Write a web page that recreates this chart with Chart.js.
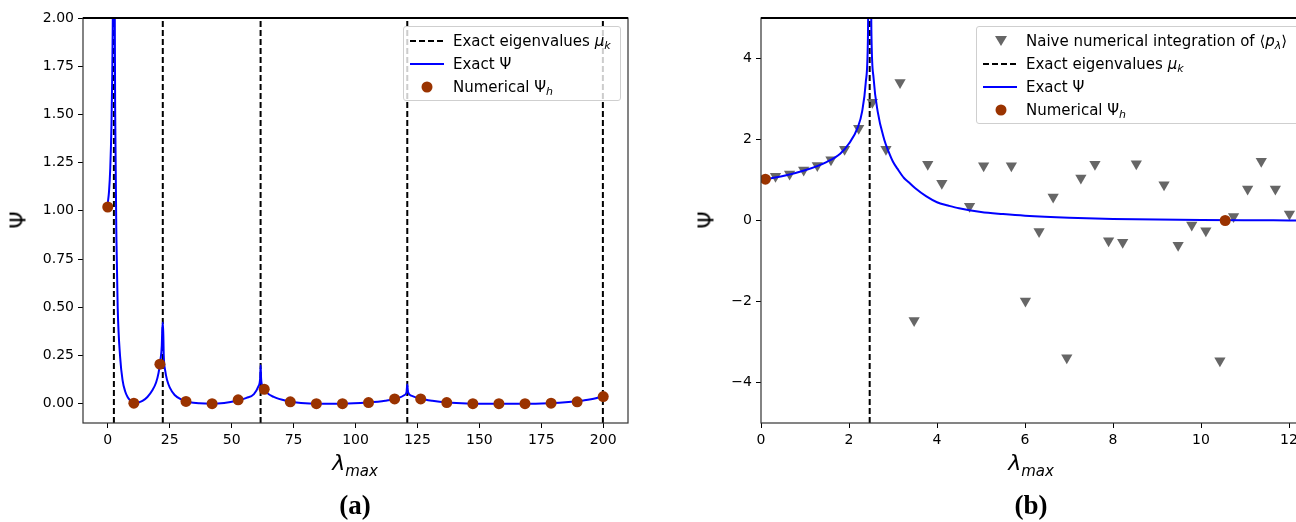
<!DOCTYPE html>
<html>
<head>
<meta charset="utf-8">
<script src="https://cdn.jsdelivr.net/npm/chart.js@4"></script>
<style>
  html, body { margin: 0; padding: 0; background: #fff; }
  body { width: 1296px; height: 522px; position: relative; overflow: hidden; font-family: 'DejaVu Sans', sans-serif; }
  canvas { position: absolute; top: 0; }
  #chartA { left: 0; }
  #chartB { left: 680px; }
  .legend { position: absolute; background: rgba(255,255,255,0.8); border: 1px solid #cfcfcf; border-radius: 3px; box-sizing: border-box; }
  .row { position: absolute; left: 0; height: 20px; font-size: 15px; line-height: 20px; white-space: nowrap; color: #000; }
  .row svg { position: absolute; left: 4px; top: 2px; }
  .row span { position: absolute; left: 49px; }
  sub { font-size: 11px; vertical-align: -3px; line-height: 0; }
  .ylab { position: absolute; font-size: 22px; transform: translate(-50%, -50%) rotate(-90deg); }
  .xlab { position: absolute; font-size: 22px; transform: translateX(-50%); font-style: italic; }
  .xlab sub { font-size: 15px; vertical-align: -6px; }
  .panel { position: absolute; font-family: 'Liberation Serif', serif; font-weight: bold; font-size: 27px; transform: translateX(-50%); }
</style>
</head>
<body>
<canvas id="chartA" width="640" height="460"></canvas>
<canvas id="chartB" width="640" height="460"></canvas>

<div class="legend" style="left:403px; top:26px; width:218px; height:75px;">
  <div class="row" style="top:4px"><svg width="40" height="16"><line x1="2" y1="8" x2="36" y2="8" stroke="#000" stroke-width="2" stroke-dasharray="6,3"/></svg><span>Exact eigenvalues <i>μ</i><sub><i>k</i></sub></span></div>
  <div class="row" style="top:27px"><svg width="40" height="16"><line x1="2" y1="8" x2="36" y2="8" stroke="#0000ff" stroke-width="2"/></svg><span>Exact Ψ</span></div>
  <div class="row" style="top:50px"><svg width="40" height="16"><circle cx="19" cy="8" r="5.5" fill="#9a3300"/></svg><span>Numerical Ψ<sub><i>h</i></sub></span></div>
</div>

<div class="legend" style="left:976px; top:26px; width:340px; height:98px;">
  <div class="row" style="top:4px"><svg width="40" height="16"><polygon points="14,3 26,3 20,13" fill="#666"/></svg><span>Naive numerical integration of ⟨<i>p</i><sub><i>λ</i></sub>⟩</span></div>
  <div class="row" style="top:27px"><svg width="40" height="16"><line x1="2" y1="8" x2="36" y2="8" stroke="#000" stroke-width="2" stroke-dasharray="6,3"/></svg><span>Exact eigenvalues <i>μ</i><sub><i>k</i></sub></span></div>
  <div class="row" style="top:50px"><svg width="40" height="16"><line x1="2" y1="8" x2="36" y2="8" stroke="#0000ff" stroke-width="2"/></svg><span>Exact Ψ</span></div>
  <div class="row" style="top:73px"><svg width="40" height="16"><circle cx="20" cy="8" r="5.5" fill="#9a3300"/></svg><span>Numerical Ψ<sub><i>h</i></sub></span></div>
</div>

<div class="ylab" style="left:18px; top:220px;">Ψ</div>
<div class="ylab" style="left:706px; top:220px;">Ψ</div>
<div class="xlab" style="left:355px; top:450px;">λ<sub>max</sub></div>
<div class="xlab" style="left:1031px; top:450px;">λ<sub>max</sub></div>
<div class="panel" style="left:355px; top:490px;">(a)</div>
<div class="panel" style="left:1031px; top:490px;">(b)</div>

<script>
// ---- panel (a) data ----
const eigenA = [2.47, 22.21, 61.69, 120.90, 199.86];
const exactAx = [0, 0.5, 1.0, 1.5, 1.8, 2.0, 2.2, 2.35, 2.45, 2.5, 2.6, 2.8, 3.0, 3.5, 4.0, 5.0, 6.0, 7.0, 8.0, 9.0, 10.0, 11.0, 12.0, 14.0, 16.0, 18.0, 19.5, 20.5, 21.3, 21.8, 22.1, 22.3, 22.6, 23.2, 24.0, 25.0, 27.0, 30.0, 33.0, 37.0, 42.0, 47.0, 52.0, 56.0, 59.0, 60.8, 61.5, 61.7, 61.9, 62.5, 64.0, 67.0, 72.0, 78.0, 85.0, 95.0, 105.0, 112.0, 117.0, 119.8, 120.6, 120.9, 121.2, 122.5, 126.0, 131.0, 137.0, 145.0, 155.0, 168.0, 178.0, 186.0, 192.0, 197.0, 199.86];
const exactAy = [1.04, 1.1, 1.22, 1.45, 1.7, 1.95, 2.4, 3.2, 6, 6, 3.5, 2.1, 1.5, 0.85, 0.5, 0.24, 0.12, 0.065, 0.035, 0.018, 0.008, 0.005, 0.006, 0.015, 0.035, 0.07, 0.11, 0.16, 0.23, 0.3, 0.42, 0.42, 0.25, 0.17, 0.12, 0.085, 0.045, 0.02, 0.008, 0.002, 0.0, 0.004, 0.015, 0.03, 0.05, 0.09, 0.13, 0.2, 0.13, 0.09, 0.06, 0.035, 0.015, 0.004, 0.0, 0.0, 0.006, 0.015, 0.028, 0.045, 0.06, 0.1, 0.06, 0.042, 0.027, 0.015, 0.006, 0.001, 0.0, 0.0, 0.003, 0.009, 0.017, 0.028, 0.04];
const numAx = [0, 10.53, 21.05, 31.58, 42.11, 52.63, 63.16, 73.68, 84.21, 94.74, 105.26, 115.79, 126.32, 136.84, 147.37, 157.89, 168.42, 178.95, 189.47, 200.0];
const numAy = [1.02, 0.003, 0.205, 0.012, 0.0, 0.02, 0.075, 0.01, 0.0, 0.0, 0.006, 0.025, 0.025, 0.006, 0.0, 0.0, 0.0, 0.003, 0.01, 0.037];
const xTicksA = [0, 25, 50, 75, 100, 125, 150, 175, 200];
const yTicksA = [0, 0.25, 0.5, 0.75, 1.0, 1.25, 1.5, 1.75, 2.0];

// ---- panel (b) data ----
const eigenB = [2.47];
const exactBx = [0.1, 0.5, 1.0, 1.5, 1.8, 2.0, 2.2, 2.3, 2.38, 2.43, 2.46, 2.48, 2.51, 2.56, 2.65, 2.8, 2.9, 3.0, 3.1, 3.25, 3.35, 3.5, 3.75, 4.0, 4.25, 4.5, 5.0, 5.5, 6.0, 7.0, 8.0, 9.0, 10.0, 11.0, 12.0, 12.5];
const exactBy = [1.02, 1.1, 1.24, 1.45, 1.65, 1.9, 2.3, 2.7, 3.4, 4.5, 8, 8, 4.6, 3.5, 2.7, 2.0, 1.7, 1.45, 1.28, 1.05, 0.95, 0.8, 0.6, 0.45, 0.37, 0.3, 0.21, 0.16, 0.12, 0.07, 0.04, 0.022, 0.012, 0.006, 0.003, 0.002];
const naiveX = [0.33, 0.65, 0.97, 1.28, 1.59, 1.90, 2.22, 2.53, 2.84, 3.16, 3.48, 3.79, 4.11, 4.74, 5.06, 5.69, 6.01, 6.32, 6.64, 6.95, 7.27, 7.59, 7.90, 8.22, 8.53, 9.16, 9.48, 9.79, 10.11, 10.43, 10.74, 11.06, 11.37, 11.69, 12.01];
const naiveY = [1.09, 1.15, 1.25, 1.36, 1.50, 1.76, 2.28, 2.92, 1.76, 3.41, -2.47, 1.39, 0.92, 0.35, 1.35, 1.35, -1.99, -0.27, 0.58, -3.39, 1.05, 1.39, -0.50, -0.54, 1.40, 0.88, -0.61, -0.11, -0.25, -3.46, 0.10, 0.78, 1.46, 0.78, 0.16];
const numBx = [0.1, 10.55];
const numBy = [1.02, 0.0];
const xTicksB = [0, 2, 4, 6, 8, 10, 12];
const yTicksB = [-4, -2, 0, 2, 4];

const pts = (xs, ys) => xs.map((x, i) => ({ x: x, y: ys[i] }));

// axes frame drawn over the data, like matplotlib spines
const framePlugin = {
    id: 'frame',
    afterDatasetsDraw(chart) {
        const { ctx, chartArea: a } = chart;
        ctx.save();
        ctx.strokeStyle = '#333';
        ctx.lineWidth = 1.2;
        ctx.strokeRect(a.left, a.top, a.right - a.left, a.bottom - a.top);
        ctx.strokeStyle = '#000';
        ctx.lineWidth = 2;
        ctx.beginPath();
        ctx.moveTo(a.left, a.top);
        ctx.lineTo(a.right, a.top);
        ctx.stroke();
        ctx.restore();
    }
};

function dashLines(eigs, ymin, ymax) {
    return eigs.map(mu => ({
        type: 'line',
        data: [{ x: mu, y: ymin }, { x: mu, y: ymax }],
        borderColor: '#000',
        borderWidth: 2,
        borderDash: [6, 3],
        pointRadius: 0,
        order: 5
    }));
}

function axisOpts(min, max, ticks, fmt, size, isX) {
    return {
        type: 'linear',
        min: min,
        max: max,
        afterBuildTicks: s => { s.ticks = ticks.map(v => ({ value: v })); },
        afterFit: s => { if (isX) s.height = size; else s.width = size; },
        grid: { drawOnChartArea: false, drawTicks: true, tickLength: 5, tickWidth: 1, color: '#000' },
        border: { display: false },
        ticks: {
            color: '#000',
            padding: 4,
            maxRotation: 0,
            autoSkip: false,
            font: { family: 'DejaVu Sans', size: 14 },
            callback: fmt
        }
    };
}

const baseOpts = (xScale, yScale, padRight) => ({
    responsive: false,
    animation: false,
    events: [],
    layout: { padding: { top: 18, right: padRight, left: 0, bottom: 0 } },
    plugins: { legend: { display: false }, tooltip: { enabled: false } },
    scales: { x: xScale, y: yScale }
});

const minus = v => (v < 0 ? '\u2212' + Math.abs(v) : String(v));

new Chart(document.getElementById('chartA').getContext('2d'), {
    type: 'line',
    data: {
        datasets: [
            {
                type: 'scatter',
                data: pts(numAx, numAy),
                pointStyle: 'circle',
                pointRadius: 5.5,
                pointBackgroundColor: '#9a3300',
                pointBorderWidth: 0,
                order: 0
            },
            {
                type: 'line',
                data: pts(exactAx, exactAy),
                borderColor: '#0000ff',
                borderWidth: 2,
                pointRadius: 0,
                cubicInterpolationMode: 'monotone',
                order: 1
            },
            ...dashLines(eigenA, -0.1, 2.0)
        ]
    },
    options: baseOpts(
        axisOpts(-10, 210, xTicksA, v => String(v), 37, true),
        axisOpts(-0.1, 2.0, yTicksA, v => v.toFixed(2), 83, false),
        12
    ),
    plugins: [framePlugin]
});

new Chart(document.getElementById('chartB').getContext('2d'), {
    type: 'line',
    data: {
        datasets: [
            {
                type: 'scatter',
                data: pts(numBx, numBy),
                pointStyle: 'circle',
                pointRadius: 5.5,
                pointBackgroundColor: '#9a3300',
                pointBorderWidth: 0,
                order: 0
            },
            {
                type: 'line',
                data: pts(exactBx, exactBy),
                borderColor: '#0000ff',
                borderWidth: 2,
                pointRadius: 0,
                cubicInterpolationMode: 'monotone',
                order: 1
            },
            ...dashLines(eigenB, -5, 5),
            {
                type: 'scatter',
                data: pts(naiveX, naiveY),
                pointStyle: 'triangle',
                rotation: 180,
                pointRadius: 6.5,
                pointBackgroundColor: '#666666',
                pointBorderWidth: 0,
                order: 6
            }
        ]
    },
    options: baseOpts(
        axisOpts(0, 12.5, xTicksB, v => String(v), 37, true),
        axisOpts(-5, 5, yTicksB, minus, 81, false),
        9
    ),
    plugins: [framePlugin]
});
</script>
</body>
</html>
